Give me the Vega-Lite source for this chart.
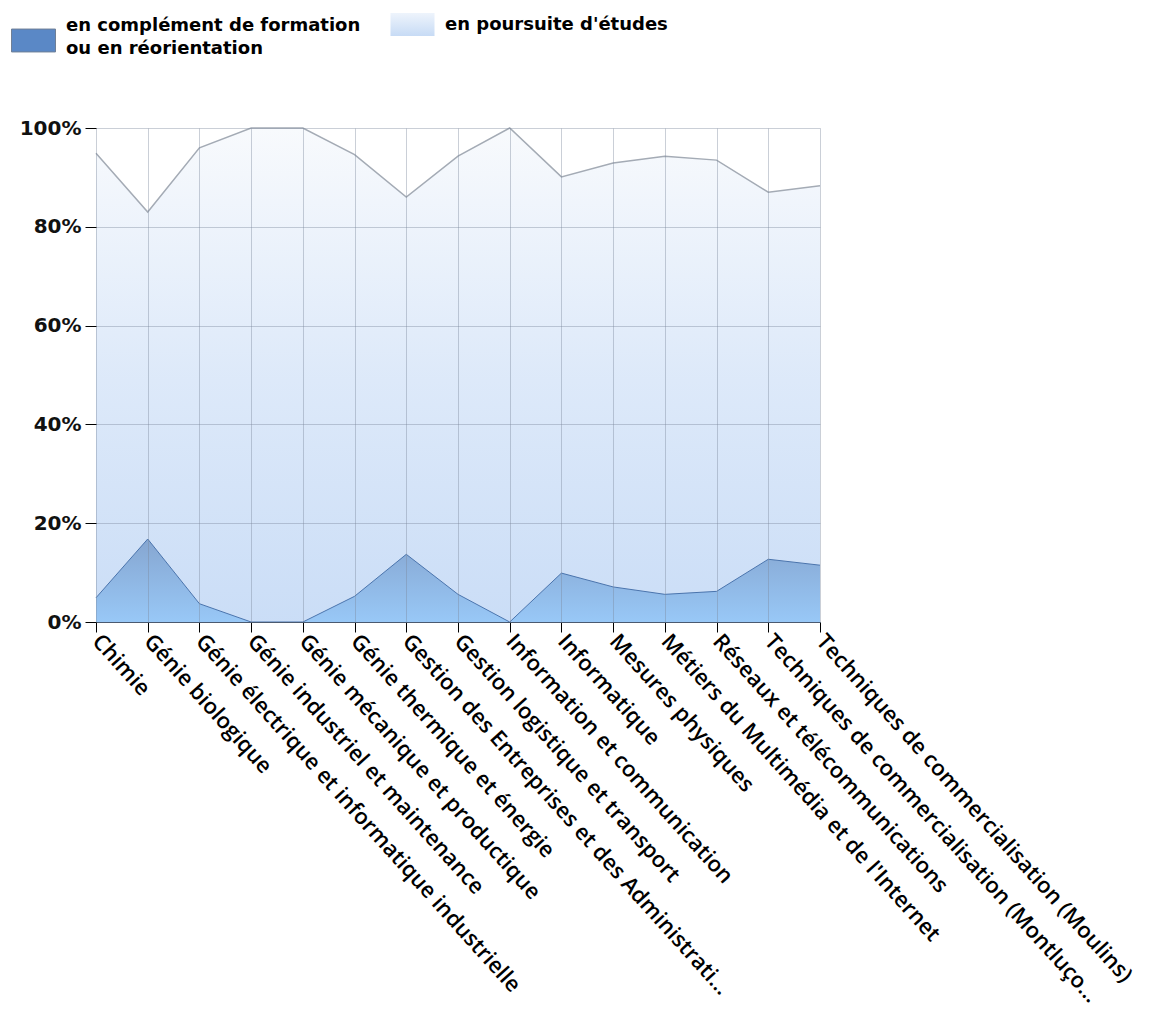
{
  "$schema": "https://vega.github.io/schema/vega-lite/v6.json",
  "width": 724,
  "height": 494,
  "padding": {"left": 11, "top": 2, "right": 2, "bottom": 2},
  "background": "white",
  "config": {"view": {"stroke": null}},
  "data": {
    "values": [
      {"cat": "Chimie", "serie": "en complément de formation ou en réorientation", "value": 4.9},
      {"cat": "Chimie", "serie": "en poursuite d'études", "value": 90.0},
      {"cat": "Génie biologique", "serie": "en complément de formation ou en réorientation", "value": 16.8},
      {"cat": "Génie biologique", "serie": "en poursuite d'études", "value": 66.2},
      {"cat": "Génie électrique et informatique industrielle", "serie": "en complément de formation ou en réorientation", "value": 3.7},
      {"cat": "Génie électrique et informatique industrielle", "serie": "en poursuite d'études", "value": 92.3},
      {"cat": "Génie industriel et maintenance", "serie": "en complément de formation ou en réorientation", "value": 0},
      {"cat": "Génie industriel et maintenance", "serie": "en poursuite d'études", "value": 100},
      {"cat": "Génie mécanique et productique", "serie": "en complément de formation ou en réorientation", "value": 0},
      {"cat": "Génie mécanique et productique", "serie": "en poursuite d'études", "value": 100},
      {"cat": "Génie thermique et énergie", "serie": "en complément de formation ou en réorientation", "value": 5.2},
      {"cat": "Génie thermique et énergie", "serie": "en poursuite d'études", "value": 89.4},
      {"cat": "Gestion des Entreprises et des Administrations", "serie": "en complément de formation ou en réorientation", "value": 13.7},
      {"cat": "Gestion des Entreprises et des Administrations", "serie": "en poursuite d'études", "value": 72.3},
      {"cat": "Gestion logistique et transport", "serie": "en complément de formation ou en réorientation", "value": 5.6},
      {"cat": "Gestion logistique et transport", "serie": "en poursuite d'études", "value": 88.7},
      {"cat": "Information et communication", "serie": "en complément de formation ou en réorientation", "value": 0},
      {"cat": "Information et communication", "serie": "en poursuite d'études", "value": 100},
      {"cat": "Informatique", "serie": "en complément de formation ou en réorientation", "value": 9.9},
      {"cat": "Informatique", "serie": "en poursuite d'études", "value": 80.2},
      {"cat": "Mesures physiques", "serie": "en complément de formation ou en réorientation", "value": 7.1},
      {"cat": "Mesures physiques", "serie": "en poursuite d'études", "value": 85.8},
      {"cat": "Métiers du Multimédia et de l'Internet", "serie": "en complément de formation ou en réorientation", "value": 5.6},
      {"cat": "Métiers du Multimédia et de l'Internet", "serie": "en poursuite d'études", "value": 88.7},
      {"cat": "Réseaux et télécommunications", "serie": "en complément de formation ou en réorientation", "value": 6.2},
      {"cat": "Réseaux et télécommunications", "serie": "en poursuite d'études", "value": 87.3},
      {"cat": "Techniques de commercialisation (Montluçon)", "serie": "en complément de formation ou en réorientation", "value": 12.7},
      {"cat": "Techniques de commercialisation (Montluçon)", "serie": "en poursuite d'études", "value": 74.3},
      {"cat": "Techniques de commercialisation (Moulins)", "serie": "en complément de formation ou en réorientation", "value": 11.5},
      {"cat": "Techniques de commercialisation (Moulins)", "serie": "en poursuite d'études", "value": 76.8}
    ]
  },
  "transform": [
    {"stack": "value", "groupby": ["cat"], "sort": [{"field": "serie", "order": "ascending"}], "as": ["y0", "y1"]}
  ],
  "encoding": {
    "x": {
      "field": "cat",
      "type": "nominal",
      "sort": null,
      "scale": {"type": "point", "padding": 0},
      "axis": {
        "title": null,
        "grid": true,
        "gridColor": "#7a889c",
        "gridOpacity": 0.4,
        "tickColor": "#000000",
        "tickSize": 10,
        "domainColor": "#4a5a70",
        "labelAngle": 48,
        "labelAlign": "left",
        "labelBaseline": "middle",
        "labelFont": "Open Sans",
        "labelFontWeight": 600,
        "labelFontSize": 22,
        "labelColor": "#000000",
        "labelLimit": 488,
        "labelPadding": 5,
        "labelOverlap": false,
        "zindex": 1
      }
    },
    "y": {
      "field": "y1",
      "type": "quantitative",
      "scale": {"domain": [0, 100]},
      "axis": {
        "title": null,
        "values": [0, 20, 40, 60, 80, 100],
        "labelExpr": "datum.value + '%'",
        "grid": true,
        "gridColor": "#7a889c",
        "gridOpacity": 0.4,
        "domain": false,
        "tickColor": "#000000",
        "tickSize": 11,
        "labelFont": "DejaVu Sans",
        "labelFontWeight": "bold",
        "labelFontSize": 20,
        "labelColor": "#111111",
        "labelPadding": 4,
        "zindex": 1
      }
    }
  },
  "layer": [
    {
      "transform": [{"filter": "datum.serie === 'en complément de formation ou en réorientation'"}],
      "mark": {"type": "square", "opacity": 0, "size": 4},
      "encoding": {
        "color": {
          "field": "serie",
          "type": "nominal",
          "scale": {
            "domain": ["en complément de formation ou en réorientation"],
            "range": ["#5a88c6"]
          },
          "legend": {
            "title": null,
            "orient": "none",
            "legendX": -85,
            "legendY": -110,
            "symbolType": "M-1,-0.52H1V0.52H-1Z",
            "symbolSize": 1936,
            "symbolStrokeColor": "#6f7f96",
            "symbolStrokeWidth": 1,
            "symbolOpacity": 1,
            "labelFont": "DejaVu Sans",
            "labelFontWeight": "bold",
            "labelFontSize": 18,
            "labelColor": "#000000",
            "labelLimit": 400,
            "labelOffset": 10,
            "labelExpr": "['en complément de formation', 'ou en réorientation']",
            "encode": {
              "labels": {
                "update": {
                  "lineHeight": {"value": 23},
                  "dy": {"value": -15}
                }
              },
              "symbols": {
                "update": {
                  "stroke": {"value": "#6f7f96"},
                  "opacity": {"value": 1}
                }
              }
            }
          }
        }
      }
    },
    {
      "transform": [{"filter": "datum.serie === 'en poursuite d\\'études'"}],
      "mark": {
        "type": "point",
        "filled": true,
        "opacity": 0,
        "size": 4,
        "stroke": "#6f7f96",
        "strokeWidth": 1,
        "color": {"gradient": "linear", "x1": 0, "y1": 0, "x2": 0, "y2": 1, "stops": [{"offset": 0, "color": "#eef4fc"}, {"offset": 1, "color": "#c7dbf5"}]}
      },
      "encoding": {
        "shape": {
          "field": "serie",
          "type": "nominal",
          "scale": {
            "domain": ["en poursuite d'études"],
            "range": ["M-1,-0.52H1V0.52H-1Z"]
          },
          "legend": {
            "title": null,
            "orient": "none",
            "legendX": 294,
            "legendY": -126,
            "symbolSize": 1936,
            "symbolStrokeColor": "#6f7f96",
            "symbolStrokeWidth": 1,
            "symbolOpacity": 1,
            "labelFont": "DejaVu Sans",
            "labelFontWeight": "bold",
            "labelFontSize": 18,
            "labelColor": "#000000",
            "labelLimit": 400,
            "labelOffset": 10
          }
        }
      }
    },
    {
      "transform": [{"filter": "datum.serie === 'en poursuite d\\'études'"}],
      "mark": {
        "type": "area",
        "interpolate": "linear",
        "color": {"gradient": "linear", "x1": 0, "y1": 0, "x2": 0, "y2": 1, "stops": [{"offset": 0, "color": "#f5f8fc"}, {"offset": 0.5, "color": "#cfe0f7"}, {"offset": 1, "color": "#b4cff3"}]},
        "line": {"color": "#a4abb5", "strokeWidth": 1.5}
      },
      "encoding": {"y2": {"field": "y0"}}
    },
    {
      "transform": [{"filter": "datum.serie === 'en complément de formation ou en réorientation'"}],
      "mark": {
        "type": "area",
        "interpolate": "linear",
        "color": {"gradient": "linear", "x1": 0, "y1": 0, "x2": 0, "y2": 1, "stops": [{"offset": 0, "color": "#5280bd"}, {"offset": 1, "color": "#6cb0f3"}]},
        "line": {"color": "#4a74ad", "strokeWidth": 1}
      },
      "encoding": {"y2": {"field": "y0"}}
    }
  ]
}
